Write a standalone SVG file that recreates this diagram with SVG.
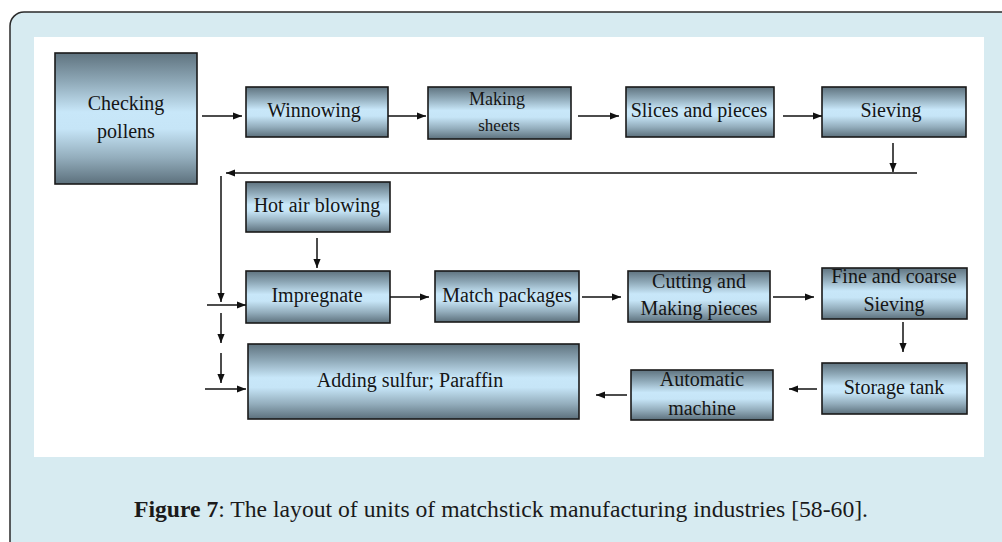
<svg xmlns="http://www.w3.org/2000/svg" width="1002" height="542" viewBox="0 0 1002 542">
  <defs>
    <linearGradient id="boxFill" x1="0" y1="0" x2="0" y2="1">
      <stop offset="0" stop-color="#5f737f"/>
      <stop offset="0.22" stop-color="#8fa9b8"/>
      <stop offset="0.45" stop-color="#c8e7f9"/>
      <stop offset="0.58" stop-color="#c6e5f7"/>
      <stop offset="0.8" stop-color="#93adbc"/>
      <stop offset="1" stop-color="#5c707c"/>
    </linearGradient>
    <marker id="arrow" viewBox="0 0 10 10" refX="10" refY="5" markerWidth="9" markerHeight="9" markerUnits="userSpaceOnUse" orient="auto">
      <path d="M0,1 L10,5 L0,9 Z" fill="#111"/>
    </marker>
  </defs>
  <style>
    .box { fill: url(#boxFill); stroke: #1a1a1a; stroke-width: 1.6; }
    .lbl { font-family: "Liberation Serif", "DejaVu Serif", serif; font-size: 20px; fill: #151515; text-anchor: middle; }
    .small { font-size: 18px; }
    .tiny { font-size: 17px; }
    .conn line { stroke: #111; stroke-width: 1.5; fill: none; }
    .arr { marker-end: url(#arrow); }
    .cap { font-family: "Liberation Serif", "DejaVu Serif", serif; font-size: 24px; fill: #1a1a1a; }
  </style>

  <!-- figure frame -->
  <rect x="10" y="12" width="1010" height="560" rx="14" ry="14" fill="#d7ebf1" stroke="#2a2a2a" stroke-width="1.5"/>
  <rect x="34" y="37" width="950" height="420" fill="#ffffff"/>

  <!-- top row -->
  <g id="checking-pollens">
    <rect class="box" x="55" y="53" width="142" height="131"/>
    <text class="lbl" x="126" y="110">Checking</text>
    <text class="lbl" x="126" y="138">pollens</text>
  </g>
  <g id="winnowing">
    <rect class="box" x="246" y="87" width="142" height="50"/>
    <text class="lbl" x="314" y="117">Winnowing</text>
  </g>
  <g id="making-sheets">
    <rect class="box" x="428" y="87" width="143" height="52"/>
    <text class="lbl small" x="497" y="105">Making</text>
    <text class="lbl tiny" x="499" y="131">sheets</text>
  </g>
  <g id="slices-pieces">
    <rect class="box" x="626" y="87" width="148" height="50"/>
    <text class="lbl" x="699" y="117">Slices and pieces</text>
  </g>
  <g id="sieving">
    <rect class="box" x="822" y="87" width="144" height="50"/>
    <text class="lbl" x="891" y="117">Sieving</text>
  </g>

  <!-- middle rows -->
  <g id="hot-air-blowing">
    <rect class="box" x="246" y="182" width="144" height="50"/>
    <text class="lbl" x="317" y="212">Hot air blowing</text>
  </g>
  <g id="impregnate">
    <rect class="box" x="246" y="271" width="144" height="52"/>
    <text class="lbl" x="317" y="302">Impregnate</text>
  </g>
  <g id="match-packages">
    <rect class="box" x="435" y="271" width="144" height="51"/>
    <text class="lbl" x="507" y="302">Match packages</text>
  </g>
  <g id="cutting-pieces">
    <rect class="box" x="628" y="271" width="142" height="51"/>
    <text class="lbl" x="699" y="288">Cutting and</text>
    <text class="lbl" x="699" y="315">Making pieces</text>
  </g>
  <g id="fine-coarse-sieving">
    <rect class="box" x="822" y="268" width="145" height="51"/>
    <text class="lbl" x="894" y="283">Fine and coarse</text>
    <text class="lbl" x="894" y="311">Sieving</text>
  </g>

  <!-- bottom row -->
  <g id="adding-sulfur">
    <rect class="box" x="248" y="344" width="331" height="75"/>
    <text class="lbl" x="410" y="387">Adding sulfur; Paraffin</text>
  </g>
  <g id="automatic-machine">
    <rect class="box" x="631" y="370" width="142" height="50"/>
    <text class="lbl" x="702" y="386">Automatic</text>
    <text class="lbl" x="702" y="415">machine</text>
  </g>
  <g id="storage-tank">
    <rect class="box" x="822" y="363" width="145" height="51"/>
    <text class="lbl" x="894" y="394">Storage tank</text>
  </g>

  <!-- connectors -->
  <g id="connectors" class="conn">
    <line class="arr" x1="202" y1="116" x2="242" y2="116"/>
    <line class="arr" x1="388" y1="116" x2="426" y2="116"/>
    <line class="arr" x1="578" y1="116" x2="619" y2="116"/>
    <line class="arr" x1="783" y1="116" x2="822" y2="116"/>
    <line class="arr" x1="893" y1="143" x2="893" y2="172"/>
    <line class="arr" x1="917" y1="173" x2="226" y2="173"/>
    <line class="arr" x1="221" y1="176" x2="221" y2="302"/>
    <line class="arr" x1="317" y1="238" x2="317" y2="268"/>
    <line class="arr" x1="207" y1="305" x2="246" y2="305"/>
    <line class="arr" x1="390" y1="297" x2="429" y2="297"/>
    <line class="arr" x1="582" y1="297" x2="621" y2="297"/>
    <line class="arr" x1="773" y1="297" x2="814" y2="297"/>
    <line class="arr" x1="903" y1="322" x2="903" y2="352"/>
    <line class="arr" x1="817" y1="389" x2="789" y2="389"/>
    <line class="arr" x1="627" y1="395" x2="596" y2="395"/>
    <line class="arr" x1="221" y1="313" x2="221" y2="343"/>
    <line class="arr" x1="221" y1="353" x2="221" y2="383"/>
    <line class="arr" x1="205" y1="389" x2="246" y2="389"/>
  </g>

  <!-- caption -->
  <text class="cap" x="134" y="517" textLength="734" lengthAdjust="spacingAndGlyphs"><tspan font-weight="bold">Figure 7</tspan>: The layout of units of matchstick manufacturing industries [58-60].</text>
</svg>
